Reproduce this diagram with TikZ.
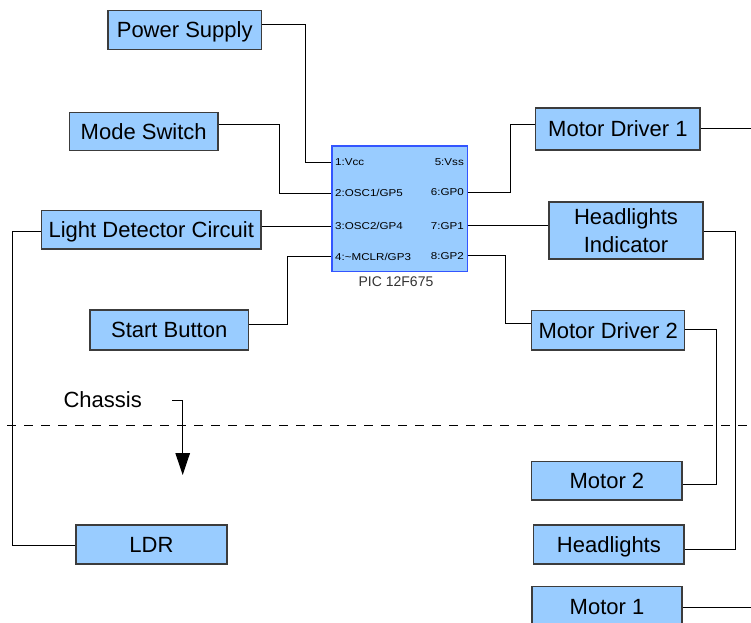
\documentclass[tikz,border=0pt]{standalone}
\usepackage{fontspec}
\usepackage{graphicx}
\setmainfont{Liberation Sans}
\usetikzlibrary{arrows.meta}
\definecolor{boxfill}{HTML}{99CCFF}
\definecolor{boxline}{HTML}{3C3C3C}
\definecolor{chipline}{RGB}{51,85,255}
\definecolor{labelgray}{HTML}{333333}
\newcommand{\pintext}[1]{\scalebox{1.16}[1]{#1}}
\begin{document}
\begin{tikzpicture}[x=1pt,y=-1pt,
  block/.style={draw=boxline, line width=1.2pt, fill=boxfill, inner sep=0pt,
    font=\fontsize{22}{27.7}\selectfont, text height=15.8pt, text depth=0pt, align=center},
  chipbox/.style={draw=chipline, line width=1.2pt, fill=boxfill, inner sep=0pt},
  wire/.style={draw=black, line width=1pt},
  pin/.style={inner sep=0pt, font=\fontsize{10}{11}\selectfont, text height=7.2pt, text depth=0pt},
]
\clip (0,0) rectangle (751,622);

% functional blocks
\node[block, minimum width=153.3pt, minimum height=38.6pt] (ps) at (184.7,30) {Power Supply};
\node[block, minimum width=148.7pt, minimum height=38pt] (ms) at (143.7,131.3) {Mode Switch};
\node[block, minimum width=219.5pt, minimum height=38.5pt] (ldc) at (151.3,229.8) {Light Detector Circuit};
\node[block, minimum width=158.3pt, minimum height=40pt] (sb) at (169.2,330) {Start Button};
\node[block, minimum width=151pt, minimum height=39pt] (ldr) at (151.5,544.5) {LDR};
\node[block, minimum width=164.3pt, minimum height=42pt] (md1) at (617.9,129) {Motor Driver 1};
\node[block, minimum width=154pt, minimum height=57pt, text height={}, text depth={}] (hi) at (626,230.5) {Headlights\\Indicator};
\node[block, minimum width=153pt, minimum height=39.3pt] (md2) at (608.2,330.3) {Motor Driver 2};
\node[block, minimum width=150.3pt, minimum height=38.3pt] (m2) at (606.9,480.9) {Motor 2};
\node[block, minimum width=150.3pt, minimum height=39pt] (hl) at (608.9,544.5) {Headlights};
\node[block, minimum width=150pt, minimum height=39.3pt] (m1) at (607,606.3) {Motor 1};

% microcontroller
\node[chipbox, minimum width=135.3pt, minimum height=125.7pt] (chip) at (399.7,208.9) {};
\node[font=\fontsize{14}{16}\selectfont, text=labelgray, inner sep=0pt, text height=10pt, text depth=0pt] (chiplabel) at (396,281.7) {PIC 12F675};
\node[pin, anchor=west] (l1) at (335,162) {\pintext{1:Vcc}};
\node[pin, anchor=west] (l2) at (335,192.5) {\pintext{2:OSC1/GP5}};
\node[pin, anchor=west] (l3) at (335,226) {\pintext{3:OSC2/GP4}};
\node[pin, anchor=west] (l4) at (335,256.5) {\pintext{4:\textasciitilde MCLR/GP3}};
\node[pin, anchor=east] (r5) at (464,161.5) {\pintext{5:Vss}};
\node[pin, anchor=east] (r6) at (464,192) {\pintext{6:GP0}};
\node[pin, anchor=east] (r7) at (464,226) {\pintext{7:GP1}};
\node[pin, anchor=east] (r8) at (464,256) {\pintext{8:GP2}};

\coordinate (p1) at (chip.west |- 0,162);
\coordinate (p2) at (chip.west |- 0,193);
\coordinate (p3) at (chip.west |- 0,226);
\coordinate (p4) at (chip.west |- 0,256.7);
\coordinate (p6) at (chip.east |- 0,192.3);
\coordinate (p7) at (chip.east |- 0,225.7);
\coordinate (p8) at (chip.east |- 0,255.5);

% wiring, left side
\draw[wire] (ps.east |- 0,24.3) -- (305.5,24.3) |- (p1);
\draw[wire] (ms.east |- 0,124.7) -- (279.3,124.7) |- (p2);
\draw[wire] (ldc.east |- p3) -- (p3);
\draw[wire] (ldc.west |- 0,231.7) -- (12.7,231.7) |- (ldr.west |- 0,545.7);
\draw[wire] (sb.east |- 0,324.7) -- (287.3,324.7) |- (p4);

% wiring, right side
\draw[wire] (p6) -- (510,192.3) |- (md1.west |- 0,124.3);
\draw[wire] (md1.east |- 0,128.3) -- (760,128.3);
\draw[wire] (p7) -- (hi.west |- p7);
\draw[wire] (hi.east |- 0,231.7) -- (735,231.7) |- (hl.east |- 0,549);
\draw[wire] (p8) -- (505.7,255.5) |- (md2.west |- 0,323.3);
\draw[wire] (md2.east |- 0,329.3) -- (716,329.3) |- (m2.east |- 0,484.3);
\draw[wire] (m1.east |- 0,607.7) -- (760,607.7);

% chassis boundary
\node[font=\fontsize{22}{27}\selectfont, inner sep=0pt, text height=16pt, text depth=0pt] (chassis) at (102.7,399) {Chassis};
\coordinate (ca) at (172,400.5);
\draw[wire, -{Triangle[length=22pt,width=14.5pt]}] (ca) -| (182.7,475);
\draw[black, line width=1pt, dash pattern=on 9pt off 8pt, dash phase=10pt] (0,425) -- (751,425);
\end{tikzpicture}
\end{document}
